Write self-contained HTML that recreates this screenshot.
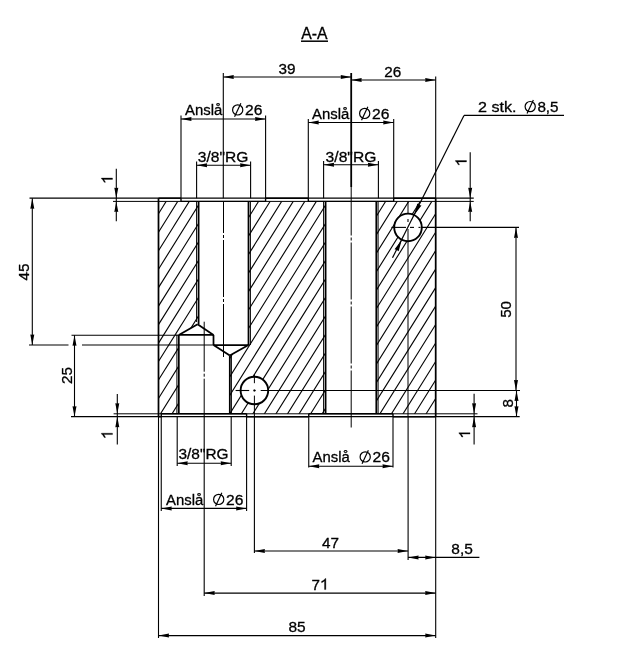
<!DOCTYPE html>
<html><head><meta charset="utf-8"><style>
html,body{margin:0;padding:0;background:#fff;width:640px;height:660px;overflow:hidden;}
svg{display:block;filter:blur(0.3px);font-family:"Liberation Sans",sans-serif;}
</style></head><body><svg width="640" height="660" viewBox="0 0 640 660" font-family="Liberation Sans, sans-serif" fill="#000"><style>text{stroke:#000;stroke-width:.3px}</style><defs><clipPath id="hc"><path clip-rule="evenodd" d="M158.5 201.4 L198.6 201.4 L198.6 324.2 L178.8 334.9 L178.8 413.8 L158.5 413.8 Z M248.5 201.4 L325.6 201.4 L325.6 413.8 L229.8 413.8 L229.8 355.6 L248.5 345 Z M376.3 201.4 L435.7 201.4 L435.7 413.8 L376.3 413.8 Z M394.2 227.4 a13.8 13.8 0 1 0 27.6 0 a13.8 13.8 0 1 0 -27.6 0 Z M240.6 390.5 a13.8 13.8 0 1 0 27.6 0 a13.8 13.8 0 1 0 -27.6 0 Z"/></clipPath></defs><g clip-path="url(#hc)" stroke="#000" stroke-width="1.1"><line x1="-44.25" y1="150" x2="-238" y2="460"/><line x1="-32.7" y1="150" x2="-226.45" y2="460"/><line x1="-21.15" y1="150" x2="-214.9" y2="460"/><line x1="-9.6" y1="150" x2="-203.35" y2="460"/><line x1="1.95" y1="150" x2="-191.8" y2="460"/><line x1="13.5" y1="150" x2="-180.25" y2="460"/><line x1="25.05" y1="150" x2="-168.7" y2="460"/><line x1="36.6" y1="150" x2="-157.15" y2="460"/><line x1="48.15" y1="150" x2="-145.6" y2="460"/><line x1="59.7" y1="150" x2="-134.05" y2="460"/><line x1="71.25" y1="150" x2="-122.5" y2="460"/><line x1="82.8" y1="150" x2="-110.95" y2="460"/><line x1="94.35" y1="150" x2="-99.4" y2="460"/><line x1="105.9" y1="150" x2="-87.85" y2="460"/><line x1="117.45" y1="150" x2="-76.3" y2="460"/><line x1="129" y1="150" x2="-64.75" y2="460"/><line x1="140.55" y1="150" x2="-53.2" y2="460"/><line x1="152.1" y1="150" x2="-41.65" y2="460"/><line x1="163.65" y1="150" x2="-30.1" y2="460"/><line x1="175.2" y1="150" x2="-18.55" y2="460"/><line x1="186.75" y1="150" x2="-7" y2="460"/><line x1="198.3" y1="150" x2="4.55" y2="460"/><line x1="209.85" y1="150" x2="16.1" y2="460"/><line x1="221.4" y1="150" x2="27.65" y2="460"/><line x1="232.95" y1="150" x2="39.2" y2="460"/><line x1="244.5" y1="150" x2="50.75" y2="460"/><line x1="256.05" y1="150" x2="62.3" y2="460"/><line x1="267.6" y1="150" x2="73.85" y2="460"/><line x1="279.15" y1="150" x2="85.4" y2="460"/><line x1="290.7" y1="150" x2="96.95" y2="460"/><line x1="302.25" y1="150" x2="108.5" y2="460"/><line x1="313.8" y1="150" x2="120.05" y2="460"/><line x1="325.35" y1="150" x2="131.6" y2="460"/><line x1="336.9" y1="150" x2="143.15" y2="460"/><line x1="348.45" y1="150" x2="154.7" y2="460"/><line x1="360" y1="150" x2="166.25" y2="460"/><line x1="371.55" y1="150" x2="177.8" y2="460"/><line x1="383.1" y1="150" x2="189.35" y2="460"/><line x1="394.65" y1="150" x2="200.9" y2="460"/><line x1="406.2" y1="150" x2="212.45" y2="460"/><line x1="417.75" y1="150" x2="224" y2="460"/><line x1="429.3" y1="150" x2="235.55" y2="460"/><line x1="440.85" y1="150" x2="247.1" y2="460"/><line x1="452.4" y1="150" x2="258.65" y2="460"/><line x1="463.95" y1="150" x2="270.2" y2="460"/><line x1="475.5" y1="150" x2="281.75" y2="460"/><line x1="487.05" y1="150" x2="293.3" y2="460"/><line x1="498.6" y1="150" x2="304.85" y2="460"/><line x1="510.15" y1="150" x2="316.4" y2="460"/><line x1="521.7" y1="150" x2="327.95" y2="460"/><line x1="533.25" y1="150" x2="339.5" y2="460"/><line x1="544.8" y1="150" x2="351.05" y2="460"/><line x1="556.35" y1="150" x2="362.6" y2="460"/><line x1="567.9" y1="150" x2="374.15" y2="460"/><line x1="579.45" y1="150" x2="385.7" y2="460"/><line x1="591" y1="150" x2="397.25" y2="460"/><line x1="602.55" y1="150" x2="408.8" y2="460"/><line x1="614.1" y1="150" x2="420.35" y2="460"/><line x1="625.65" y1="150" x2="431.9" y2="460"/><line x1="637.2" y1="150" x2="443.45" y2="460"/><line x1="648.75" y1="150" x2="455" y2="460"/><line x1="660.3" y1="150" x2="466.55" y2="460"/><line x1="671.85" y1="150" x2="478.1" y2="460"/><line x1="683.4" y1="150" x2="489.65" y2="460"/><line x1="694.95" y1="150" x2="501.2" y2="460"/><line x1="706.5" y1="150" x2="512.75" y2="460"/><line x1="718.05" y1="150" x2="524.3" y2="460"/><line x1="729.6" y1="150" x2="535.85" y2="460"/><line x1="741.15" y1="150" x2="547.4" y2="460"/><line x1="752.7" y1="150" x2="558.95" y2="460"/></g><line x1="29.5" y1="198.2" x2="473.75" y2="198.2" stroke="#000" stroke-width="1.2"/><line x1="113" y1="201.4" x2="473.75" y2="201.4" stroke="#000" stroke-width="1"/><line x1="71" y1="416.7" x2="519.7" y2="416.7" stroke="#000" stroke-width="1.2"/><line x1="113.6" y1="413.8" x2="477.5" y2="413.8" stroke="#000" stroke-width="1"/><line x1="158.5" y1="198.2" x2="158.5" y2="416.7" stroke="#000" stroke-width="1.75"/><line x1="435.7" y1="198.2" x2="435.7" y2="416.7" stroke="#000" stroke-width="1.75"/><line x1="158.5" y1="198.2" x2="181" y2="198.2" stroke="#000" stroke-width="1.4"/><line x1="265.6" y1="198.2" x2="308.3" y2="198.2" stroke="#000" stroke-width="1.4"/><line x1="393.7" y1="198.2" x2="435.7" y2="198.2" stroke="#000" stroke-width="1.4"/><line x1="181" y1="201.4" x2="265.6" y2="201.4" stroke="#000" stroke-width="1.4"/><line x1="308.3" y1="201.4" x2="393.7" y2="201.4" stroke="#000" stroke-width="1.4"/><line x1="158.5" y1="416.7" x2="161.25" y2="416.7" stroke="#000" stroke-width="1.5"/><line x1="246.6" y1="416.7" x2="308.75" y2="416.7" stroke="#000" stroke-width="1.5"/><line x1="393" y1="416.7" x2="435.7" y2="416.7" stroke="#000" stroke-width="1.5"/><line x1="161.25" y1="413.8" x2="246.6" y2="413.8" stroke="#000" stroke-width="1.4"/><line x1="308.75" y1="413.8" x2="393" y2="413.8" stroke="#000" stroke-width="1.4"/><line x1="181" y1="198.2" x2="181" y2="201.4" stroke="#000" stroke-width="1.4"/><line x1="265.6" y1="198.2" x2="265.6" y2="201.4" stroke="#000" stroke-width="1.4"/><line x1="308.3" y1="198.2" x2="308.3" y2="201.4" stroke="#000" stroke-width="1.4"/><line x1="393.7" y1="198.2" x2="393.7" y2="201.4" stroke="#000" stroke-width="1.4"/><line x1="161.25" y1="413.8" x2="161.25" y2="416.7" stroke="#000" stroke-width="1.4"/><line x1="246.6" y1="413.8" x2="246.6" y2="416.7" stroke="#000" stroke-width="1.4"/><line x1="308.75" y1="413.8" x2="308.75" y2="416.7" stroke="#000" stroke-width="1.4"/><line x1="393" y1="413.8" x2="393" y2="416.7" stroke="#000" stroke-width="1.4"/><line x1="198.6" y1="201.4" x2="198.6" y2="324.2" stroke="#000" stroke-width="1.75"/><line x1="248.5" y1="201.4" x2="248.5" y2="345" stroke="#000" stroke-width="1.75"/><line x1="196.6" y1="201.4" x2="196.6" y2="322" stroke="#000" stroke-width="1"/><line x1="250.4" y1="201.4" x2="250.4" y2="345" stroke="#000" stroke-width="1"/><line x1="213.5" y1="345" x2="248.5" y2="345" stroke="#000" stroke-width="1.75"/><line x1="248.5" y1="345" x2="229.8" y2="355.6" stroke="#000" stroke-width="1.75"/><line x1="213.5" y1="345" x2="229.8" y2="355.6" stroke="#000" stroke-width="1.75"/><line x1="178.8" y1="334.9" x2="178.8" y2="413.8" stroke="#000" stroke-width="1.75"/><line x1="229.8" y1="355.6" x2="229.8" y2="413.8" stroke="#000" stroke-width="1.75"/><line x1="176.9" y1="334.5" x2="176.9" y2="413.8" stroke="#000" stroke-width="1"/><line x1="231.4" y1="356" x2="231.4" y2="413.8" stroke="#000" stroke-width="1"/><line x1="178.8" y1="334.9" x2="213.5" y2="334.9" stroke="#000" stroke-width="1.75"/><line x1="178.8" y1="334.9" x2="197.6" y2="324.2" stroke="#000" stroke-width="1.75"/><line x1="197.6" y1="324.2" x2="213.5" y2="334.9" stroke="#000" stroke-width="1.75"/><line x1="213.5" y1="334.9" x2="213.5" y2="345" stroke="#000" stroke-width="1.75"/><line x1="325.6" y1="201.4" x2="325.6" y2="413.8" stroke="#000" stroke-width="1.75"/><line x1="376.3" y1="201.4" x2="376.3" y2="413.8" stroke="#000" stroke-width="1.75"/><line x1="323.6" y1="201.4" x2="323.6" y2="413.8" stroke="#000" stroke-width="1"/><line x1="378.1" y1="201.4" x2="378.1" y2="413.8" stroke="#000" stroke-width="1"/><circle cx="408" cy="227.4" r="13.8" fill="none" stroke="#000" stroke-width="1.9"/><circle cx="254.4" cy="390.5" r="13.8" fill="none" stroke="#000" stroke-width="1.9"/><line x1="29" y1="345" x2="68.5" y2="345" stroke="#000" stroke-width="1.1"/><line x1="82" y1="345" x2="213.5" y2="345" stroke="#000" stroke-width="1.1"/><line x1="71.5" y1="335.2" x2="178.8" y2="335.2" stroke="#000" stroke-width="1.1"/><line x1="223.5" y1="201.4" x2="223.5" y2="357" stroke="#000" stroke-width="1" stroke-dasharray="57,2,3,2" stroke-dashoffset="25.4"/><line x1="204.2" y1="321.7" x2="204.2" y2="416.7" stroke="#000" stroke-width="1" stroke-dasharray="57,2,3,2" stroke-dashoffset="7"/><line x1="351.2" y1="187" x2="351.2" y2="427.5" stroke="#000" stroke-width="1" stroke-dasharray="57,2,3,2" stroke-dashoffset="8.5"/><line x1="408" y1="201.3" x2="408" y2="213.6" stroke="#000" stroke-width="1"/><line x1="408" y1="219" x2="408" y2="222" stroke="#000" stroke-width="1.1"/><line x1="408" y1="229" x2="408" y2="416.7" stroke="#000" stroke-width="1"/><line x1="391.4" y1="227.4" x2="406" y2="227.4" stroke="#000" stroke-width="1.1"/><line x1="410" y1="227.4" x2="414" y2="227.4" stroke="#000" stroke-width="1.1"/><line x1="418.5" y1="227.4" x2="420.5" y2="227.4" stroke="#000" stroke-width="1.1"/><line x1="421.2" y1="227.4" x2="519" y2="227.4" stroke="#000" stroke-width="1.1"/><line x1="254.4" y1="374" x2="254.4" y2="383.2" stroke="#000" stroke-width="1"/><line x1="254.4" y1="389.5" x2="254.4" y2="391.5" stroke="#000" stroke-width="1.3"/><line x1="254.4" y1="395.6" x2="254.4" y2="416.7" stroke="#000" stroke-width="1"/><line x1="235.6" y1="390.5" x2="249.2" y2="390.5" stroke="#000" stroke-width="1.1"/><line x1="253.4" y1="390.5" x2="255.7" y2="390.5" stroke="#000" stroke-width="1.3"/><line x1="260.7" y1="390.5" x2="520" y2="390.5" stroke="#000" stroke-width="1.1"/><line x1="223.3" y1="73" x2="223.3" y2="198.2" stroke="#000" stroke-width="1.1"/><line x1="351.2" y1="73" x2="351.2" y2="187" stroke="#000" stroke-width="1.8"/><line x1="435.7" y1="76.5" x2="435.7" y2="198.2" stroke="#000" stroke-width="1.1"/><line x1="223.3" y1="77" x2="351.2" y2="77" stroke="#000" stroke-width="1.1"/><polygon points="223.3,77 233.8,75 233.49,77 233.8,79" fill="#000"/><polygon points="351.2,77 340.7,79 341.01,77 340.7,75" fill="#000"/><text x="287" y="73.8" font-size="15.2" text-anchor="middle" textLength="17" lengthAdjust="spacingAndGlyphs">39</text><line x1="351.2" y1="80" x2="435.7" y2="80" stroke="#000" stroke-width="1.1"/><polygon points="351.2,80 361.7,78 361.38,80 361.7,82" fill="#000"/><polygon points="435.7,80 425.2,82 425.51,80 425.2,78" fill="#000"/><text x="392.8" y="77.2" font-size="15.2" text-anchor="middle" textLength="17" lengthAdjust="spacingAndGlyphs">26</text><line x1="181" y1="115.5" x2="181" y2="198.2" stroke="#000" stroke-width="1.1"/><line x1="265.6" y1="115.5" x2="265.6" y2="198.2" stroke="#000" stroke-width="1.1"/><line x1="181" y1="119" x2="265.6" y2="119" stroke="#000" stroke-width="1.1"/><polygon points="181,119 191.5,117 191.19,119 191.5,121" fill="#000"/><polygon points="265.6,119 255.1,121 255.42,119 255.1,117" fill="#000"/><text x="185" y="115" font-size="15.2" text-anchor="start" textLength="37.3" lengthAdjust="spacingAndGlyphs">Anslå</text><circle cx="237.7" cy="109.9" r="5.1" fill="none" stroke="#000" stroke-width="1.2"/><line x1="234.54" y1="116.79" x2="240.86" y2="103.27" stroke="#000" stroke-width="1.2"/><text x="245.1" y="115" font-size="15.2" text-anchor="start" textLength="17.4" lengthAdjust="spacingAndGlyphs">26</text><line x1="196.6" y1="161.5" x2="196.6" y2="198.2" stroke="#000" stroke-width="1.1"/><line x1="250.6" y1="161.5" x2="250.6" y2="198.2" stroke="#000" stroke-width="1.1"/><line x1="196.6" y1="165.3" x2="250.6" y2="165.3" stroke="#000" stroke-width="1.1"/><polygon points="196.6,165.3 207.1,163.3 206.78,165.3 207.1,167.3" fill="#000"/><polygon points="250.6,165.3 240.1,167.3 240.41,165.3 240.1,163.3" fill="#000"/><text x="197.8" y="161.6" font-size="15.2" text-anchor="start" textLength="50.6" lengthAdjust="spacingAndGlyphs">3/8"RG</text><line x1="308.3" y1="119" x2="308.3" y2="198.2" stroke="#000" stroke-width="1.1"/><line x1="393.7" y1="119" x2="393.7" y2="198.2" stroke="#000" stroke-width="1.1"/><line x1="308.3" y1="122.5" x2="393.7" y2="122.5" stroke="#000" stroke-width="1.1"/><polygon points="308.3,122.5 318.8,120.5 318.49,122.5 318.8,124.5" fill="#000"/><polygon points="393.7,122.5 383.2,124.5 383.51,122.5 383.2,120.5" fill="#000"/><text x="312" y="118.5" font-size="15.2" text-anchor="start" textLength="37.3" lengthAdjust="spacingAndGlyphs">Anslå</text><circle cx="364.7" cy="113.4" r="5.1" fill="none" stroke="#000" stroke-width="1.2"/><line x1="361.54" y1="120.29" x2="367.86" y2="106.77" stroke="#000" stroke-width="1.2"/><text x="372.1" y="118.5" font-size="15.2" text-anchor="start" textLength="17.4" lengthAdjust="spacingAndGlyphs">26</text><line x1="323.6" y1="161" x2="323.6" y2="198.2" stroke="#000" stroke-width="1.1"/><line x1="378.4" y1="161" x2="378.4" y2="198.2" stroke="#000" stroke-width="1.1"/><line x1="323.6" y1="164.8" x2="378.4" y2="164.8" stroke="#000" stroke-width="1.1"/><polygon points="323.6,164.8 334.1,162.8 333.79,164.8 334.1,166.8" fill="#000"/><polygon points="378.4,164.8 367.9,166.8 368.21,164.8 367.9,162.8" fill="#000"/><text x="325.6" y="161.5" font-size="15.2" text-anchor="start" textLength="50.8" lengthAdjust="spacingAndGlyphs">3/8"RG</text><line x1="392.5" y1="257.8" x2="464" y2="115.4" stroke="#000" stroke-width="1.2"/><line x1="464" y1="115.4" x2="564" y2="115.4" stroke="#000" stroke-width="1.2"/><polygon points="414.26,214.88 417.35,203.56 419.25,204.9 421.46,205.62" fill="#000"/><polygon points="401.74,239.92 398.65,251.24 396.75,249.9 394.54,249.18" fill="#000"/><text x="478" y="111.9" font-size="15.2" text-anchor="start" textLength="38.5" lengthAdjust="spacingAndGlyphs">2 stk.</text><circle cx="530.2" cy="106.6" r="5.1" fill="none" stroke="#000" stroke-width="1.2"/><line x1="527.04" y1="113.48" x2="533.36" y2="99.97" stroke="#000" stroke-width="1.2"/><text x="537.4" y="111.9" font-size="15.2" text-anchor="start" textLength="21.2" lengthAdjust="spacingAndGlyphs">8,5</text><line x1="470.2" y1="152.2" x2="470.2" y2="221.3" stroke="#000" stroke-width="1.1"/><polygon points="470.2,198.2 468.2,187.7 470.2,188.01 472.2,187.7" fill="#000"/><polygon points="470.2,201.4 472.2,211.9 470.2,211.59 468.2,211.9" fill="#000"/><path transform="translate(466.5 166.3) rotate(-90) scale(15.5 -15.5)" d="M0.373 0 L0.285 0 L0.285 0.56 C0.24 0.52 0.15 0.47 0.095 0.449 L0.095 0.534 C0.2 0.58 0.3 0.66 0.329 0.716 L0.373 0.716 Z" stroke="#000" stroke-width="0.02"/><line x1="474.1" y1="393.7" x2="474.1" y2="444.4" stroke="#000" stroke-width="1.1"/><polygon points="474.1,413.8 472.1,403.3 474.1,403.62 476.1,403.3" fill="#000"/><polygon points="474.1,416.7 476.1,427.2 474.1,426.88 472.1,427.2" fill="#000"/><path transform="translate(470 438.5) rotate(-90) scale(15.5 -15.5)" d="M0.373 0 L0.285 0 L0.285 0.56 C0.24 0.52 0.15 0.47 0.095 0.449 L0.095 0.534 C0.2 0.58 0.3 0.66 0.329 0.716 L0.373 0.716 Z" stroke="#000" stroke-width="0.02"/><line x1="116.3" y1="168.8" x2="116.3" y2="221.3" stroke="#000" stroke-width="1.1"/><polygon points="116.3,198.2 114.3,187.7 116.3,188.01 118.3,187.7" fill="#000"/><polygon points="116.3,201.4 118.3,211.9 116.3,211.59 114.3,211.9" fill="#000"/><path transform="translate(112.5 183.8) rotate(-90) scale(15.5 -15.5)" d="M0.373 0 L0.285 0 L0.285 0.56 C0.24 0.52 0.15 0.47 0.095 0.449 L0.095 0.534 C0.2 0.58 0.3 0.66 0.329 0.716 L0.373 0.716 Z" stroke="#000" stroke-width="0.02"/><line x1="117.3" y1="394" x2="117.3" y2="444.5" stroke="#000" stroke-width="1.1"/><polygon points="117.3,413.8 115.3,403.3 117.3,403.62 119.3,403.3" fill="#000"/><polygon points="117.3,416.7 119.3,427.2 117.3,426.88 115.3,427.2" fill="#000"/><path transform="translate(112.5 439) rotate(-90) scale(15.5 -15.5)" d="M0.373 0 L0.285 0 L0.285 0.56 C0.24 0.52 0.15 0.47 0.095 0.449 L0.095 0.534 C0.2 0.58 0.3 0.66 0.329 0.716 L0.373 0.716 Z" stroke="#000" stroke-width="0.02"/><line x1="32.3" y1="198.2" x2="32.3" y2="345" stroke="#000" stroke-width="1.1"/><polygon points="32.3,198.2 34.3,208.7 32.3,208.38 30.3,208.7" fill="#000"/><polygon points="32.3,345 30.3,334.5 32.3,334.81 34.3,334.5" fill="#000"/><text x="29" y="272" font-size="15.2" text-anchor="middle" transform="rotate(-90 29 272)">45</text><line x1="74.5" y1="335.2" x2="74.5" y2="416.7" stroke="#000" stroke-width="1.1"/><polygon points="74.5,335.2 76.5,345.7 74.5,345.38 72.5,345.7" fill="#000"/><polygon points="74.5,416.7 72.5,406.2 74.5,406.51 76.5,406.2" fill="#000"/><text x="71.6" y="375.5" font-size="15.2" text-anchor="middle" transform="rotate(-90 71.6 375.5)">25</text><line x1="516" y1="227.4" x2="516" y2="390.5" stroke="#000" stroke-width="1.1"/><polygon points="516,227.4 518,237.9 516,237.59 514,237.9" fill="#000"/><polygon points="516,390.5 514,380 516,380.31 518,380" fill="#000"/><text x="511.5" y="309.4" font-size="15.2" text-anchor="middle" transform="rotate(-90 511.5 309.4)">50</text><line x1="516.5" y1="390.5" x2="516.5" y2="416.7" stroke="#000" stroke-width="1.1"/><polygon points="516.5,390.5 518.5,401 516.5,400.69 514.5,401" fill="#000"/><polygon points="516.5,416.7 514.5,406.2 516.5,406.51 518.5,406.2" fill="#000"/><text x="513.3" y="403.2" font-size="15.2" text-anchor="middle" transform="rotate(-90 513.3 403.2)">8</text><line x1="177.2" y1="416.7" x2="177.2" y2="466" stroke="#000" stroke-width="1.1"/><line x1="231.2" y1="416.7" x2="231.2" y2="466" stroke="#000" stroke-width="1.1"/><line x1="177.2" y1="463.2" x2="231.2" y2="463.2" stroke="#000" stroke-width="1.1"/><polygon points="177.2,463.2 187.7,461.2 187.38,463.2 187.7,465.2" fill="#000"/><polygon points="231.2,463.2 220.7,465.2 221.01,463.2 220.7,461.2" fill="#000"/><text x="178.5" y="459" font-size="15.2" text-anchor="start" textLength="50" lengthAdjust="spacingAndGlyphs">3/8"RG</text><line x1="161.25" y1="416.7" x2="161.25" y2="511" stroke="#000" stroke-width="1.1"/><line x1="246.6" y1="416.7" x2="246.6" y2="511" stroke="#000" stroke-width="1.1"/><line x1="161.25" y1="508.4" x2="246.6" y2="508.4" stroke="#000" stroke-width="1.1"/><polygon points="161.25,508.4 171.75,506.4 171.44,508.4 171.75,510.4" fill="#000"/><polygon points="246.6,508.4 236.1,510.4 236.41,508.4 236.1,506.4" fill="#000"/><text x="166" y="504.5" font-size="15.2" text-anchor="start" textLength="37.3" lengthAdjust="spacingAndGlyphs">Anslå</text><circle cx="218.7" cy="499.4" r="5.1" fill="none" stroke="#000" stroke-width="1.2"/><line x1="215.54" y1="506.28" x2="221.86" y2="492.77" stroke="#000" stroke-width="1.2"/><text x="226.1" y="504.5" font-size="15.2" text-anchor="start" textLength="17.4" lengthAdjust="spacingAndGlyphs">26</text><line x1="308.75" y1="416.7" x2="308.75" y2="467.5" stroke="#000" stroke-width="1.1"/><line x1="393" y1="416.7" x2="393" y2="467.5" stroke="#000" stroke-width="1.1"/><line x1="308.75" y1="466.25" x2="393" y2="466.25" stroke="#000" stroke-width="1.1"/><polygon points="308.75,466.25 319.25,464.25 318.94,466.25 319.25,468.25" fill="#000"/><polygon points="393,466.25 382.5,468.25 382.81,466.25 382.5,464.25" fill="#000"/><text x="312.5" y="462" font-size="15.2" text-anchor="start" textLength="37.3" lengthAdjust="spacingAndGlyphs">Anslå</text><circle cx="365.2" cy="456.9" r="5.1" fill="none" stroke="#000" stroke-width="1.2"/><line x1="362.04" y1="463.78" x2="368.36" y2="450.27" stroke="#000" stroke-width="1.2"/><text x="372.6" y="462" font-size="15.2" text-anchor="start" textLength="17.4" lengthAdjust="spacingAndGlyphs">26</text><line x1="254.4" y1="416.7" x2="254.4" y2="553" stroke="#000" stroke-width="1.1"/><line x1="408.1" y1="416.7" x2="408.1" y2="560" stroke="#000" stroke-width="1.1"/><line x1="254.4" y1="551" x2="408.1" y2="551" stroke="#000" stroke-width="1.1"/><polygon points="254.4,551 264.9,549 264.58,551 264.9,553" fill="#000"/><polygon points="408.1,551 397.6,553 397.92,551 397.6,549" fill="#000"/><text x="330.6" y="548.3" font-size="15.2" text-anchor="middle" textLength="17" lengthAdjust="spacingAndGlyphs">47</text><line x1="408.1" y1="557.4" x2="479.4" y2="557.4" stroke="#000" stroke-width="1.1"/><polygon points="408.1,557.4 418.6,555.4 418.29,557.4 418.6,559.4" fill="#000"/><polygon points="435.7,557.4 425.2,559.4 425.51,557.4 425.2,555.4" fill="#000"/><text x="451.3" y="554" font-size="15.2" text-anchor="start" textLength="21.5" lengthAdjust="spacingAndGlyphs">8,5</text><line x1="204.2" y1="416.7" x2="204.2" y2="596" stroke="#000" stroke-width="1.1"/><line x1="435.7" y1="416.7" x2="435.7" y2="638" stroke="#000" stroke-width="1.1"/><line x1="158.5" y1="416.7" x2="158.5" y2="638" stroke="#000" stroke-width="1.1"/><line x1="204.2" y1="593.1" x2="435.7" y2="593.1" stroke="#000" stroke-width="1.1"/><polygon points="204.2,593.1 214.7,591.1 214.38,593.1 214.7,595.1" fill="#000"/><polygon points="435.7,593.1 425.2,595.1 425.51,593.1 425.2,591.1" fill="#000"/><text x="311.6" y="589.6" font-size="15.2" text-anchor="start">7</text><path transform="translate(320.1 589.6) rotate(0) scale(15.5 -15.5)" d="M0.373 0 L0.285 0 L0.285 0.56 C0.24 0.52 0.15 0.47 0.095 0.449 L0.095 0.534 C0.2 0.58 0.3 0.66 0.329 0.716 L0.373 0.716 Z" stroke="#000" stroke-width="0.02"/><line x1="158.5" y1="635.6" x2="435.7" y2="635.6" stroke="#000" stroke-width="1.1"/><polygon points="158.5,635.6 169,633.6 168.69,635.6 169,637.6" fill="#000"/><polygon points="435.7,635.6 425.2,637.6 425.51,635.6 425.2,633.6" fill="#000"/><text x="297" y="631.9" font-size="15.2" text-anchor="middle" textLength="17.2" lengthAdjust="spacingAndGlyphs">85</text><text x="301.25" y="38.75" font-size="16" text-anchor="start" textLength="26.25" lengthAdjust="spacingAndGlyphs">A-A</text><line x1="301" y1="41.2" x2="328" y2="41.2" stroke="#000" stroke-width="1.5"/></svg></body></html>
